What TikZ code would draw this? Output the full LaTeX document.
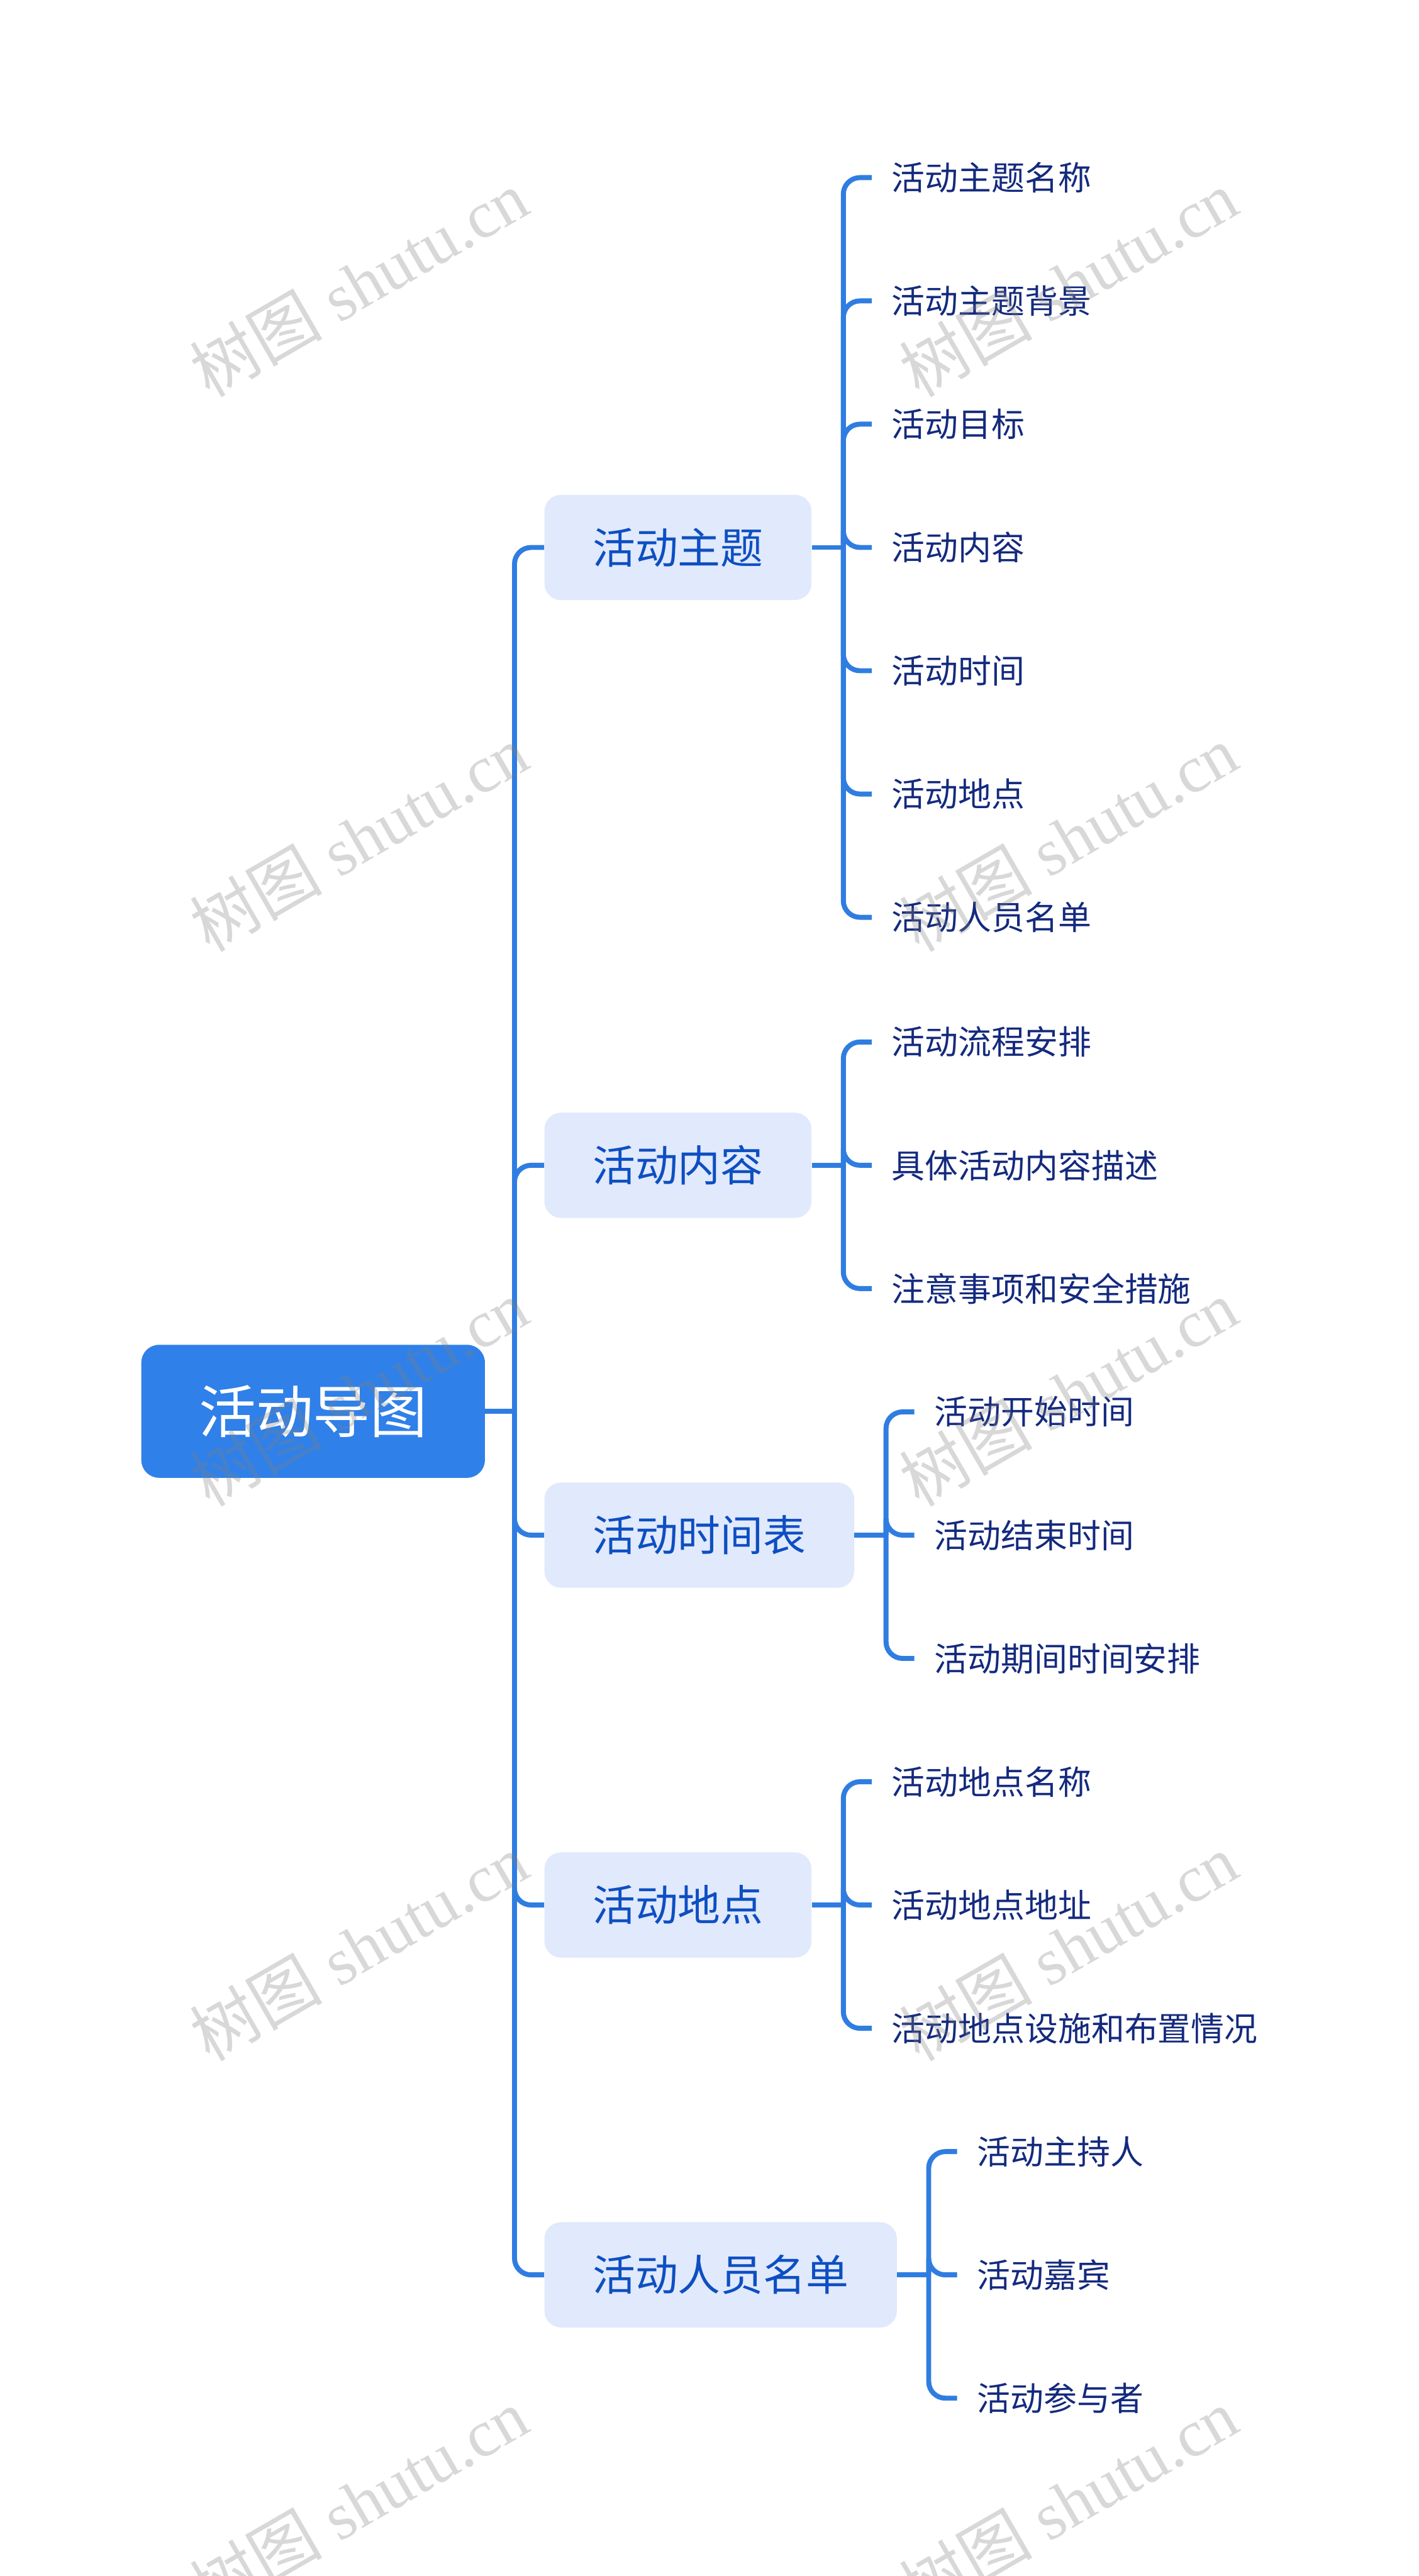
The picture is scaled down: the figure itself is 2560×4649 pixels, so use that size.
\documentclass[tikz,border=0pt]{standalone}
\usepackage{fontspec}
\setmainfont{Noto Sans CJK SC}
\newfontfamily\wmlatin{Liberation Serif}
\usetikzlibrary{calc}
\definecolor{lineblue}{HTML}{2F7DE1}
\definecolor{rootblue}{HTML}{2F80E9}
\definecolor{lightfill}{HTML}{E1E9FC}
\definecolor{midtext}{HTML}{0D4FC2}
\definecolor{leaftext}{HTML}{142A7E}
\begin{document}
\begin{tikzpicture}[x=0.5pt,y=-0.5pt,
  rootbox/.style={fill=rootblue, rounded corners=16pt, minimum width=310pt, minimum height=120pt, inner sep=0pt, text=white, font=\fontsize{51.5}{60}\selectfont},
  topicbox/.style={fill=lightfill, rounded corners=15pt, minimum height=95pt, inner xsep=43.5pt, inner ysep=0pt, anchor=west, text=midtext, font=\fontsize{38.5}{45}\selectfont},
  leaf/.style={anchor=west, inner xsep=18pt, inner ysep=0pt, text=leaftext, font=\fontsize{30}{36}\selectfont},
  link/.style={draw=lineblue, line width=4.5pt, rounded corners=15pt},
  wm/.style={rotate=30, text=black!50, opacity=0.3, inner sep=0pt, font=\fontsize{60}{70}\selectfont}
]
\fill[white] (0,0) rectangle (2560,4649);
\useasboundingbox (0,0) rectangle (2560,4649);

% root and topics
\node[rootbox] (root) at (565,2547) {活动导图};
\node[topicbox] (t1) at (982,988) {活动主题};
\node[topicbox] (t2) at (982,2103) {活动内容};
\node[topicbox] (t3) at (982,2770.5) {活动时间表};
\node[topicbox] (t4) at (982,3438) {活动地点};
\node[topicbox] (t5) at (982,4105.5) {活动人员名单};

% leaves group 1
\node[leaf] (a1) at (1573,320.5) {活动主题名称};
\node[leaf] (a2) at (1573,543) {活动主题背景};
\node[leaf] (a3) at (1573,765.5) {活动目标};
\node[leaf] (a4) at (1573,988) {活动内容};
\node[leaf] (a5) at (1573,1210.5) {活动时间};
\node[leaf] (a6) at (1573,1433) {活动地点};
\node[leaf] (a7) at (1573,1655.5) {活动人员名单};
% group 2
\node[leaf] (b1) at (1573,1880.5) {活动流程安排};
\node[leaf] (b2) at (1573,2103) {具体活动内容描述};
\node[leaf] (b3) at (1573,2325.5) {注意事项和安全措施};
% group 3
\node[leaf] (c1) at (1650,2548) {活动开始时间};
\node[leaf] (c2) at (1650,2770.5) {活动结束时间};
\node[leaf] (c3) at (1650,2993) {活动期间时间安排};
% group 4
\node[leaf] (d1) at (1573,3215.5) {活动地点名称};
\node[leaf] (d2) at (1573,3438) {活动地点地址};
\node[leaf] (d3) at (1573,3660.5) {活动地点设施和布置情况};
% group 5
\node[leaf] (e1) at (1727,3883) {活动主持人};
\node[leaf] (e2) at (1727,4105.5) {活动嘉宾};
\node[leaf] (e3) at (1727,4328) {活动参与者};

% connectors
\coordinate (j0) at ($(root.east)+(53,0)$);
\draw[link] (root.east) -- (j0);
\foreach \t in {t1,t2,t3,t4,t5} { \draw[link] (j0) |- (\t.west); }

\coordinate (j1) at ($(t1.east)+(57,0)$);
\draw[link] (t1.east) -- (j1);
\foreach \c in {a1,a2,a3,a4,a5,a6,a7} { \draw[link] (j1) |- (\c.west); }

\coordinate (j2) at ($(t2.east)+(57,0)$);
\draw[link] (t2.east) -- (j2);
\foreach \c in {b1,b2,b3} { \draw[link] (j2) |- (\c.west); }

\coordinate (j3) at ($(t3.east)+(57,0)$);
\draw[link] (t3.east) -- (j3);
\foreach \c in {c1,c2,c3} { \draw[link] (j3) |- (\c.west); }

\coordinate (j4) at ($(t4.east)+(57,0)$);
\draw[link] (t4.east) -- (j4);
\foreach \c in {d1,d2,d3} { \draw[link] (j4) |- (\c.west); }

\coordinate (j5) at ($(t5.east)+(57,0)$);
\draw[link] (t5.east) -- (j5);
\foreach \c in {e1,e2,e3} { \draw[link] (j5) |- (\c.west); }

% watermarks
\node[wm] (w1) at (647,511) {树图{\wmlatin\ shutu.cn}};
\node[wm] (w2) at (1928,511) {树图{\wmlatin\ shutu.cn}};
\node[wm] (w3) at (647,1512) {树图{\wmlatin\ shutu.cn}};
\node[wm] (w4) at (1928,1512) {树图{\wmlatin\ shutu.cn}};
\node[wm] (w5) at (647,2513) {树图{\wmlatin\ shutu.cn}};
\node[wm] (w6) at (1928,2513) {树图{\wmlatin\ shutu.cn}};
\node[wm] (w7) at (647,3514) {树图{\wmlatin\ shutu.cn}};
\node[wm] (w8) at (1928,3514) {树图{\wmlatin\ shutu.cn}};
\node[wm] (w9) at (647,4515) {树图{\wmlatin\ shutu.cn}};
\node[wm] (w10) at (1928,4515) {树图{\wmlatin\ shutu.cn}};
\end{tikzpicture}
\end{document}
